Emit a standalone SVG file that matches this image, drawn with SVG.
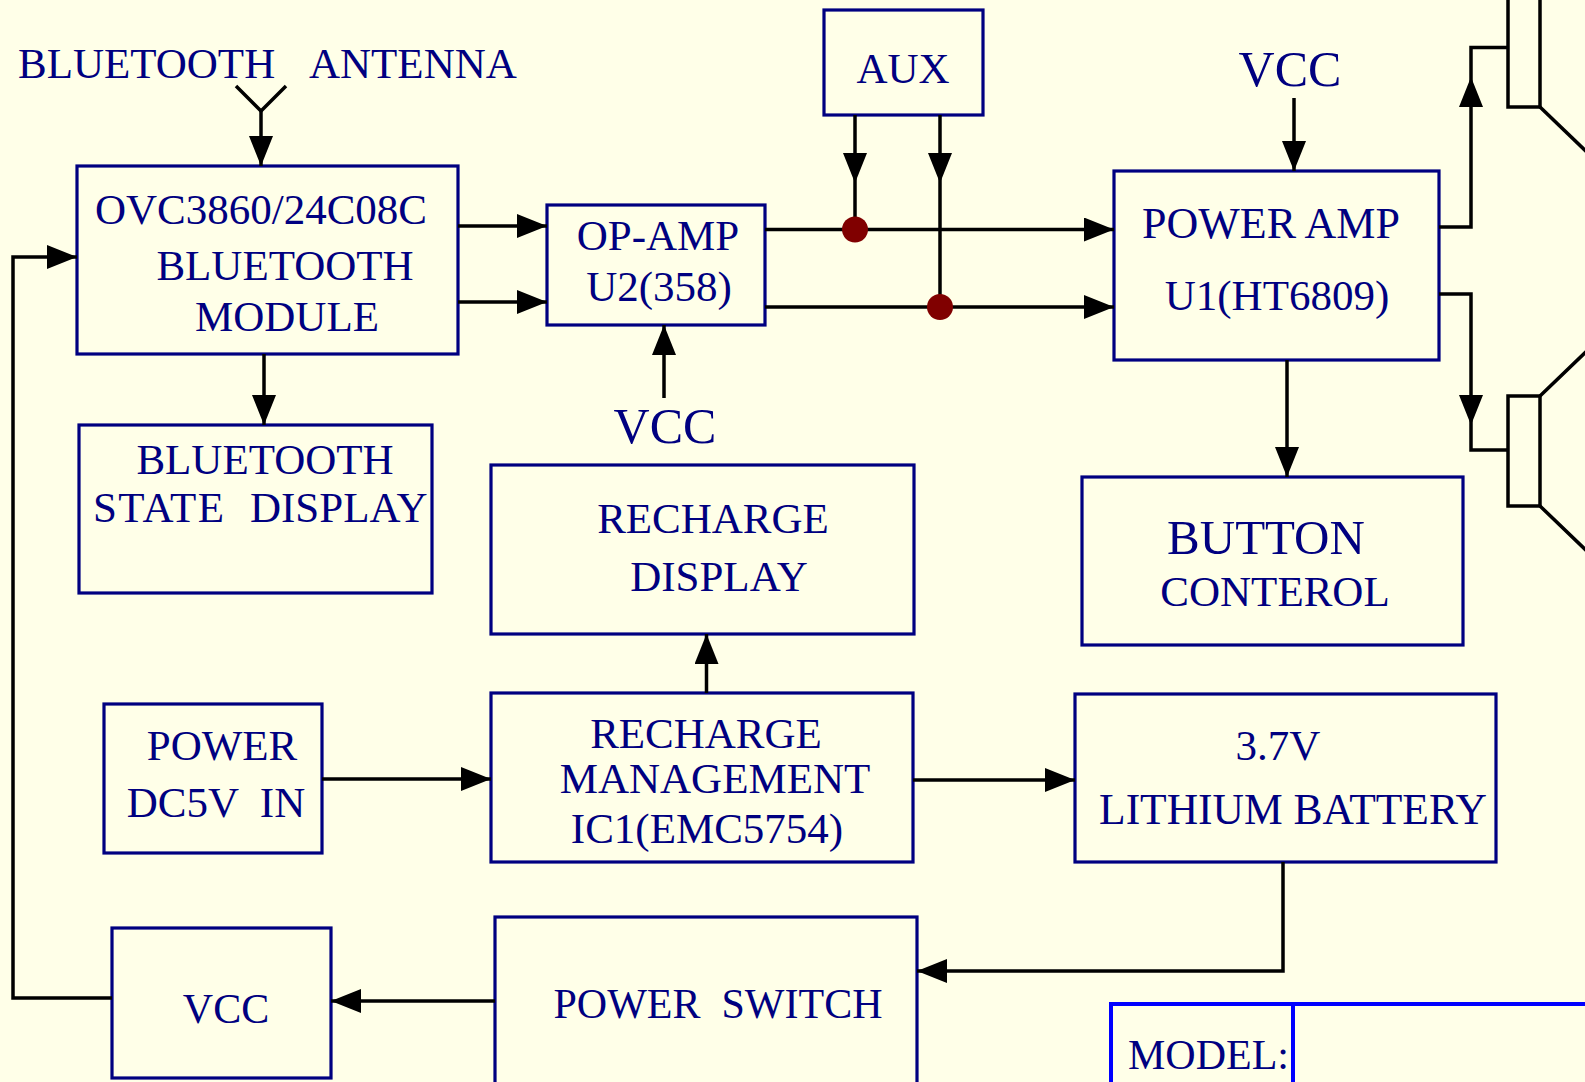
<svg xmlns="http://www.w3.org/2000/svg" width="1585" height="1082" viewBox="0 0 1585 1082">
<defs>
<style>
.bx{fill:none;stroke:#000080;stroke-width:3.2}
.w{fill:none;stroke:#000;stroke-width:3.5}
.a{fill:none;stroke:#000;stroke-width:3.5;marker-end:url(#ah)}
.t{font-family:"Liberation Serif","Times New Roman",serif;font-size:43px;fill:#000080;text-anchor:middle;white-space:pre}
.tb{font-size:50px}
.dot{fill:#800000}
</style>
<marker id="ah" viewBox="0 0 30 24" refX="30" refY="12" markerWidth="30" markerHeight="24" markerUnits="userSpaceOnUse" orient="auto">
<path d="M0,0 L30,12 L0,24 z" fill="#000"/>
</marker>
</defs>
<rect x="0" y="0" width="1585" height="1082" fill="#FFFFE8"/>

<g id="antenna">
<text class="t" style="text-anchor:start" x="18" y="78">BLUETOOTH <tspan x="309">ANTENNA</tspan></text>
<path class="w" d="M236,86 L261,111 L286,86"/>
</g>

<g id="bt-module">
<rect class="bx" x="77" y="166" width="381" height="188"/>
<text class="t" x="261" y="224">OVC3860/24C08C</text>
<text class="t" x="285" y="280">BLUETOOTH</text>
<text class="t" x="287" y="331">MODULE</text>
</g>

<g id="bt-state">
<rect class="bx" x="79" y="425" width="353" height="168"/>
<text class="t" x="265" y="474">BLUETOOTH</text>
<text class="t" style="text-anchor:start" x="93" y="522"><tspan textLength="131">STATE</tspan> <tspan x="250">DISPLAY</tspan></text>
</g>

<g id="op-amp">
<rect class="bx" x="547" y="205" width="218" height="120"/>
<text class="t" x="658" y="250">OP-AMP</text>
<text class="t" x="659" y="301">U2(358)</text>
</g>

<g id="vcc-opamp">
<text class="t tb" x="665" y="443">VCC</text>
</g>

<g id="aux">
<rect class="bx" x="824" y="10" width="159" height="105"/>
<text class="t" x="903" y="83">AUX</text>
</g>

<g id="power-amp">
<rect class="bx" x="1114" y="171" width="325" height="189"/>
<text class="t" style="font-size:44px" x="1271" y="238">POWER AMP</text>
<text class="t" x="1277" y="310">U1(HT6809)</text>
</g>

<g id="vcc-pa">
<text class="t tb" x="1290" y="86">VCC</text>
</g>

<g id="speaker-upper">
<rect class="w" x="1508" y="-5" width="32" height="112"/>
<path class="w" d="M1540,107 L1590,155"/>
</g>

<g id="speaker-lower">
<rect class="w" x="1508" y="396" width="32" height="110"/>
<path class="w" d="M1540,396 L1590,348 M1540,506 L1590,554"/>
</g>

<g id="button">
<rect class="bx" x="1082" y="477" width="381" height="168"/>
<text class="t" style="font-size:49px" x="1266" y="554">BUTTON</text>
<text class="t" style="font-size:43px" x="1275" y="606">CONTEROL</text>
</g>

<g id="recharge-display">
<rect class="bx" x="491" y="465" width="423" height="169"/>
<text class="t" x="713" y="533">RECHARGE</text>
<text class="t" x="719" y="591">DISPLAY</text>
</g>

<g id="power-in">
<rect class="bx" x="104" y="704" width="218" height="149"/>
<text class="t" x="222" y="760">POWER</text>
<text class="t" x="216" y="817">DC5V  IN</text>
</g>

<g id="recharge-mgmt">
<rect class="bx" x="491" y="693" width="422" height="169"/>
<text class="t" x="706" y="748">RECHARGE</text>
<text class="t" x="715" y="793">MANAGEMENT</text>
<text class="t" x="707" y="843">IC1(EMC5754)</text>
</g>

<g id="battery">
<rect class="bx" x="1075" y="694" width="421" height="168"/>
<text class="t" x="1278" y="760">3.7V</text>
<text class="t" style="font-size:43.5px" x="1293" y="824">LITHIUM BATTERY</text>
</g>

<g id="power-switch">
<rect class="bx" x="495" y="917" width="422" height="200"/>
<text class="t" style="font-size:42px" x="718" y="1018">POWER  SWITCH</text>
</g>

<g id="vcc-box">
<rect class="bx" x="112" y="928" width="219" height="150"/>
<text class="t" style="font-size:42px" x="226" y="1023">VCC</text>
</g>

<g id="model">
<path d="M1111,1090 L1111,1004 L1590,1004 M1293,1004 L1293,1090" fill="none" stroke="#0000FF" stroke-width="4"/>
<text class="t" style="text-anchor:start;font-size:42px" x="1128" y="1069">MODEL:</text>
</g>

<g id="connectors">
<path class="a" d="M261,111 L261,166"/>
<path class="a" d="M458,226 L547,226"/>
<path class="a" d="M458,302 L547,302"/>
<path class="a" d="M264,354 L264,425"/>
<path class="a" d="M664,398 L664,325"/>
<path class="a" d="M765,229.5 L1114,229.5"/>
<path class="a" d="M765,307 L1114,307"/>
<path class="a" d="M855,115 L855,183"/>
<path class="w" d="M855,183 L855,230"/>
<path class="a" d="M940,115 L940,183"/>
<path class="w" d="M940,183 L940,307"/>
<circle class="dot" cx="855" cy="229.5" r="13"/>
<circle class="dot" cx="940" cy="307" r="13"/>
<path class="a" d="M1294,98 L1294,171"/>
<path class="a" d="M1287,360 L1287,477"/>
<path class="a" d="M1439,227 L1471,227 L1471,77"/>
<path class="w" d="M1471,77 L1471,47.5 L1508,47.5"/>
<path class="a" d="M1439,294 L1471,294 L1471,425"/>
<path class="w" d="M1471,425 L1471,450 L1508,450"/>
<path class="a" d="M322,779 L491,779"/>
<path class="a" d="M706.5,693 L706.5,634"/>
<path class="a" d="M913,780 L1075,780"/>
<path class="a" d="M1283,862 L1283,971 L917,971"/>
<path class="a" d="M495,1001 L331,1001"/>
<path class="a" d="M112,998 L13,998 L13,257 L77,257"/>
</g>
</svg>
